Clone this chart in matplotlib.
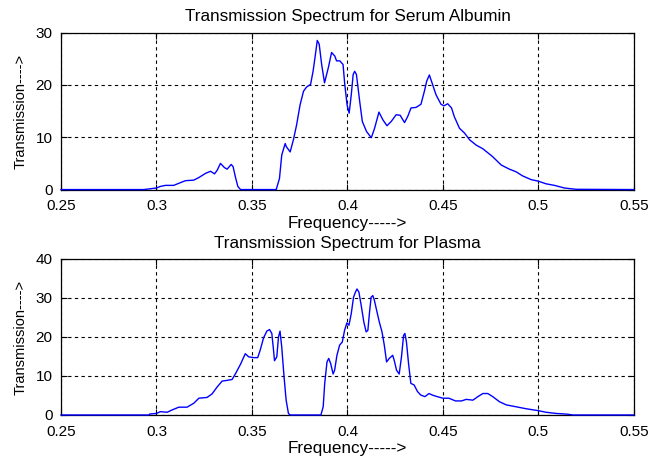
"""
Transmission spectra for serum albumin and plasma (MATLAB-style look)
"""
import matplotlib
matplotlib.use("Agg")
import matplotlib.pyplot as plt
import numpy as np

plt.rcParams["font.family"] = ["Liberation Sans", "DejaVu Sans"]

# serum albumin spectrum
albumin_freq = [0.25, 0.2934, 0.300, 0.302, 0.3047, 0.309, 0.3117, 0.3152, 0.3195, 0.3222,
                0.3257, 0.3283, 0.3304, 0.3318, 0.3335, 0.3356, 0.337, 0.3391, 0.3401, 0.3414,
                0.3426, 0.344, 0.3627, 0.3644, 0.3656, 0.3674, 0.368, 0.370, 0.3717, 0.3734,
                0.3752, 0.377, 0.3786, 0.3807, 0.382, 0.383, 0.3842, 0.3852, 0.3865, 0.388,
                0.390, 0.3917, 0.3934, 0.3943, 0.396, 0.3977, 0.3986, 0.3998, 0.4009, 0.402,
                0.403, 0.4038, 0.4047, 0.4064, 0.4078, 0.410, 0.4125, 0.4142, 0.4165, 0.4186,
                0.4207, 0.4229, 0.4255, 0.4276, 0.4299, 0.4316, 0.4333, 0.4359, 0.4385, 0.4403,
                0.4415, 0.4429, 0.4443, 0.4464, 0.449, 0.4505, 0.4525, 0.4545, 0.456, 0.4587,
                0.4613, 0.464, 0.4674, 0.4709, 0.476, 0.4805, 0.4848, 0.4883, 0.4918, 0.4962,
                0.500, 0.504, 0.5084, 0.5136, 0.5197, 0.55]
albumin_trans = [0, 0, 0.3, 0.6, 0.8, 0.8, 1.2, 1.7, 1.8, 2.3,
                 3.1, 3.5, 3.0, 3.7, 5.0, 4.2, 3.9, 4.8, 4.4, 2.3,
                 0.6, 0, 0, 2.1, 6.6, 8.8, 8.2, 7.2, 9.5, 12.4,
                 16.2, 18.8, 19.6, 20.1, 22.6, 25.2, 28.5, 27.8, 23.9, 20.4,
                 23.3, 26.2, 25.5, 24.6, 24.6, 23.9, 20.1, 16.2, 14.6, 18.1,
                 22.0, 22.6, 22.0, 16.9, 13.0, 11.1, 9.9, 11.7, 14.8, 13.3,
                 12.2, 13.0, 14.3, 14.2, 12.8, 14.0, 15.6, 15.7, 16.3, 18.8,
                 20.7, 21.9, 20.4, 18.1, 16.3, 16.0, 16.4, 15.6, 13.9, 11.7,
                 10.8, 9.5, 8.5, 7.8, 6.3, 4.7, 3.9, 3.4, 2.6, 1.9,
                 1.6, 1.1, 0.8, 0.3, 0.05, 0]

# plasma spectrum
plasma_freq = [0.25, 0.296, 0.2965, 0.300, 0.302, 0.3056, 0.3082, 0.3117, 0.316, 0.3195,
               0.3222, 0.3265, 0.3291, 0.3318, 0.3344, 0.3361, 0.3396, 0.3414, 0.344, 0.3465,
               0.3483, 0.3509, 0.353, 0.3543, 0.3561, 0.3578, 0.3592, 0.3604, 0.3613, 0.3618,
               0.363, 0.3639, 0.3647, 0.3656, 0.3668, 0.3679, 0.3691, 0.370, 0.3861, 0.3873,
               0.3881, 0.3893, 0.3902, 0.3912, 0.3925, 0.3933, 0.3945, 0.3959, 0.3973, 0.3985,
               0.3997, 0.4008, 0.402, 0.4032, 0.4042, 0.405, 0.406, 0.4072, 0.4086, 0.4098,
               0.4107, 0.4115, 0.4124, 0.4133, 0.4141, 0.4153, 0.4167, 0.4181, 0.4193, 0.4205,
               0.4219, 0.4237, 0.4245, 0.4257, 0.4271, 0.4283, 0.4294, 0.4301, 0.4309, 0.432,
               0.4332, 0.4349, 0.4367, 0.4384, 0.4406, 0.4427, 0.4445, 0.447, 0.450, 0.4531,
               0.4566, 0.4597, 0.4622, 0.4657, 0.4683, 0.4709, 0.4735, 0.4761, 0.4796, 0.4831,
               0.4883, 0.4936, 0.500, 0.504, 0.5092, 0.5153, 0.518, 0.55]
plasma_trans = [0, 0, 0.25, 0.4, 0.85, 0.7, 1.3, 2.0, 2.0, 3.0,
                4.3, 4.5, 5.4, 7.2, 8.7, 8.8, 9.1, 10.6, 13.0, 15.7,
                14.9, 14.7, 14.7, 16.6, 19.8, 21.5, 21.9, 20.9, 16.6, 13.9,
                14.9, 20.0, 21.5, 17.4, 9.8, 3.8, 0.4, 0, 0, 2.1,
                8.1, 13.6, 14.5, 13.2, 10.5, 11.5, 15.3, 17.9, 18.7, 21.7,
                23.6, 23.0, 26.0, 30.2, 31.5, 32.3, 31.5, 28.1, 23.8, 21.3,
                21.7, 26.0, 30.2, 30.6, 29.4, 26.8, 23.8, 21.3, 17.9, 13.6,
                14.5, 15.3, 14.0, 11.5, 10.5, 14.9, 20.4, 20.9, 18.7, 13.2,
                8.1, 7.7, 6.0, 5.1, 4.7, 5.5, 5.1, 4.7, 4.3, 4.3,
                3.6, 3.6, 4.0, 3.8, 4.7, 5.5, 5.5, 4.7, 3.4, 2.6,
                2.1, 1.6, 1.1, 0.7, 0.4, 0.2, 0, 0]

x_ticks = [0.25, 0.3, 0.35, 0.4, 0.45, 0.5, 0.55]
x_labels = ["0.25", "0.3", "0.35", "0.4", "0.45", "0.5", "0.55"]


def _draw(ax, freq, trans, ymax, title):
    ax.plot(freq, trans, color="#0000ff", linewidth=1.0, zorder=3, clip_on=False)
    ax.set_xlim(0.25, 0.55)
    ax.set_ylim(0, ymax)
    ax.set_xticks(x_ticks)
    ax.set_xticklabels(x_labels)
    ax.set_yticks(np.arange(0, ymax + 1, 10))
    ax.tick_params(direction="in", length=4, width=0.8, labelsize=11,
                   top=True, right=True)
    ax.tick_params(axis="x", pad=7)
    ax.tick_params(axis="y", pad=6)
    ax.grid(True, color="black", linestyle=(0, (3, 3)), linewidth=0.8)
    for sp in ax.spines.values():
        sp.set_linewidth(0.9)
    ax.set_title(title, fontsize=12.3, pad=8)
    ax.set_xlabel("Frequency----->", fontsize=12.3, labelpad=2)
    ax.set_ylabel("Transmission---->", fontsize=10.5, labelpad=6)


fig = plt.figure(figsize=(6.51, 4.59), dpi=100)
ax1 = fig.add_axes([0.0937, 0.587, 0.880, 0.342])
ax2 = fig.add_axes([0.0937, 0.0959, 0.880, 0.340])

_draw(ax1, albumin_freq, albumin_trans, 30, "Transmission Spectrum for Serum Albumin")
_draw(ax2, plasma_freq, plasma_trans, 40, "Transmission Spectrum for Plasma")

fig.savefig("out.png", dpi=100)
plt.close(fig)
